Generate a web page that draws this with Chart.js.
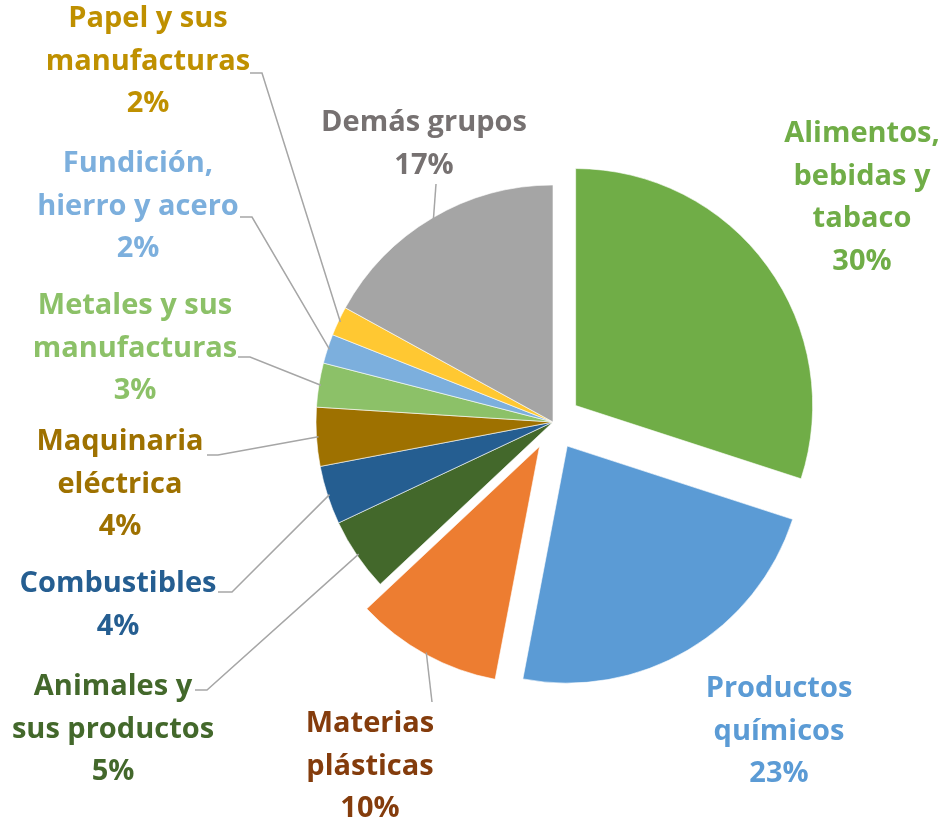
<!DOCTYPE html>
<html>
<head>
<meta charset="utf-8">
<script src="https://cdn.jsdelivr.net/npm/chart.js@4/dist/chart.umd.min.js"></script>
<style>
  body { margin: 0; background: #fff; }
  #wrap { width: 945px; height: 822px; position: relative; }
</style>
</head>
<body>
<div id="wrap"><canvas id="pieChart"></canvas></div>
<script>
// Data
const categoryLines = [
    ['Alimentos,', 'bebidas y', 'tabaco'],
    ['Productos', 'químicos'],
    ['Materias', 'plásticas'],
    ['Animales y', 'sus productos'],
    ['Combustibles'],
    ['Maquinaria', 'eléctrica'],
    ['Metales y sus', 'manufacturas'],
    ['Fundición,', 'hierro y acero'],
    ['Papel y sus', 'manufacturas'],
    ['Demás grupos']
];
const categories = categoryLines.map(lines => lines.join(' '));
const shares = [30, 23, 10, 5, 4, 4, 3, 2, 2, 17];

// Styling
const sliceColors = ['#70AD47', '#5B9BD5', '#ED7D31', '#43682B', '#255E91',
                     '#9E7100', '#8CC168', '#7CAFDD', '#FFC832', '#A5A5A5'];
const labelColors = ['#70AD47', '#5B9BD5', '#843C0C', '#43682B', '#255E91',
                     '#9E7100', '#8CC168', '#7CAFDD', '#BF9000', '#767171'];
const explodeBy = [28, 28, 28, 0, 0, 0, 0, 0, 0, 0];

// label layout: centre x, middle of first line, and leader path from the text
const labelPos = [
    [862, 134], [779, 689], [370, 724], [113, 687], [118, 584],
    [120, 442], [135, 306], [138, 164], [148, 19], [424, 123]
];
const leaderPath = [
    null, null,
    [[432, 702]],
    [[195, 690], [207, 690]],
    [[218, 592], [232, 592]],
    [[207, 455], [218, 455]],
    [[238, 357], [250, 357]],
    [[240, 217], [252, 217]],
    [[250, 73], [262, 73]],
    [[436, 184]]
];
const lineHeight = 42.5;

// Move the exploded slices outwards without resizing them
const explodePlugin = {
    id: 'explode',
    afterUpdate(chart) {
        chart.getDatasetMeta(0).data.forEach((arc, i) => {
            const d = explodeBy[i];
            if (!d || arc._exploded) return;
            const base = arc.draw;
            arc.draw = function (ctx) {
                const mid = (this.startAngle + this.endAngle) / 2;
                ctx.save();
                ctx.translate(Math.cos(mid) * d, Math.sin(mid) * d);
                base.call(this, ctx);
                ctx.restore();
            };
            arc._exploded = true;
        });
    }
};

// Data labels with leader lines
const labelPlugin = {
    id: 'sliceLabels',
    afterDatasetsDraw(chart) {
        const ctx = chart.ctx;
        const arcs = chart.getDatasetMeta(0).data;
        ctx.save();
        arcs.forEach((arc, i) => {
            const path = leaderPath[i];
            if (!path) return;
            const mid = (arc.startAngle + arc.endAngle) / 2;
            const r = arc.outerRadius - 2;
            const ex = arc.x + Math.cos(mid) * (r + explodeBy[i]);
            const ey = arc.y + Math.sin(mid) * (r + explodeBy[i]);
            ctx.beginPath();
            ctx.moveTo(path[0][0], path[0][1]);
            path.slice(1).forEach(p => ctx.lineTo(p[0], p[1]));
            ctx.lineTo(ex, ey);
            ctx.strokeStyle = '#A6A6A6';
            ctx.lineWidth = 1.5;
            ctx.stroke();
        });
        ctx.font = 'bold 29px "Open Sans", Lato, sans-serif';
        ctx.textAlign = 'center';
        ctx.textBaseline = 'middle';
        categoryLines.forEach((lines, i) => {
            const [cx, cy] = labelPos[i];
            ctx.fillStyle = labelColors[i];
            const all = lines.concat([shares[i] + '%']);
            all.forEach((t, k) => ctx.fillText(t, cx, cy + k * lineHeight));
        });
        ctx.restore();
    }
};

const ctx = document.getElementById('pieChart').getContext('2d');
new Chart(ctx, {
    type: 'pie',
    data: {
        labels: categories,
        datasets: [{
            data: shares,
            backgroundColor: sliceColors,
            borderColor: '#ffffff',
            borderWidth: 0.6
        }]
    },
    options: {
        responsive: true,
        maintainAspectRatio: false,
        animation: false,
        radius: 237,
        layout: { padding: { left: 161, right: 0, top: 22, bottom: 0 } },
        plugins: {
            legend: { display: false },
            tooltip: { enabled: false }
        }
    },
    plugins: [explodePlugin, labelPlugin]
});
</script>
</body>
</html>
